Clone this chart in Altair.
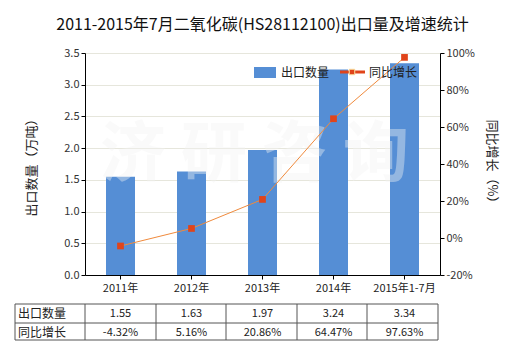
import altair as alt
import pandas as pd

# ---- data ----
categories = ["2011年", "2012年", "2013年", "2014年", "2015年1-7月"]
export_qty = [1.55, 1.63, 1.97, 3.24, 3.34]
growth_pct = [-4.32, 5.16, 20.86, 64.47, 97.63]
row_labels = ["出口数量", "同比增长"]
legend_labels = ["出口数量", "同比增长"]
left_ticks = [0, 0.5, 1.0, 1.5, 2.0, 2.5, 3.0, 3.5]
right_ticks = [-20, 0, 20, 40, 60, 80, 100]
title_text = "2011-2015年7月二氧化碳(HS28112100)出口量及增速统计"
left_title = "出口数量（万吨）"
right_title = "同比增长（%）"
watermark_text = "济 研 咨 询"

df = pd.DataFrame({
    "cat": categories,
    "qty": export_qty,
    "growth": growth_pct,
    "qty_lbl": [f"{v:.2f}" for v in export_qty],
    "g_lbl": [f"{g:.2f}%" for g in growth_pct],
})

FONT = "Noto Sans CJK SC"
BAR = "#558ED5"
LINE = "#F08A3C"
MARK = "#E0441A"
W, H = 355, 222

x_enc = alt.X(
    "cat:N", sort=categories,
    scale=alt.Scale(paddingInner=0, paddingOuter=0),
    axis=alt.Axis(title=None, labelAngle=0, domainColor="black", tickColor="black",
                  tickSize=4, labelPadding=3, labelFont=FONT, labelFontSize=11,
                  labelColor="#222", grid=False),
)

base = alt.Chart(df)

bars = base.mark_bar(size=29, color=BAR).encode(
    x=x_enc,
    y=alt.Y("qty:Q", scale=alt.Scale(domain=[0, 3.5], nice=False),
            axis=alt.Axis(values=left_ticks, format=".1f", title=left_title,
                          grid=True, gridColor="#E6E6DC", domainColor="black",
                          tickColor="black", tickSize=4, labelFont=FONT,
                          labelFontSize=11, labelColor="#333", titleFont=FONT,
                          titleFontSize=13, titleFontWeight="normal",
                          titleColor="#222", titlePadding=25)),
)

y_right = alt.Y("growth:Q", scale=alt.Scale(domain=[-20, 100], nice=False),
                axis=alt.Axis(orient="right", values=right_ticks,
                              labelExpr="datum.value + '%'", title=right_title,
                              grid=False, domainColor="black", tickColor="black",
                              tickSize=4, labelFont=FONT, labelFontSize=11,
                              labelColor="#333", titleFont=FONT, titleFontSize=13,
                              titleFontWeight="normal", titleColor="#222",
                              titlePadding=10))

line = base.mark_line(color=LINE, strokeWidth=1).encode(x=x_enc, y=y_right)
pts = base.mark_point(shape="square", filled=True, size=45, color=MARK, opacity=1).encode(
    x=x_enc, y=y_right)
line_layer = alt.layer(line, pts)


def one(val):
    return alt.Chart(pd.DataFrame({"t": [val]}))


# watermark
wm = one(watermark_text).mark_text(
    font=FONT, fontSize=66, fontWeight="bold", color="#F4F4F4", opacity=0.4
).encode(text="t:N", x=alt.value(W / 2 - 8), y=alt.value(103))

# legend (manual)
leg_rect = one(0).mark_rect(color=BAR).encode(
    x=alt.value(169), x2=alt.value(191), y=alt.value(14), y2=alt.value(25))
leg_t1 = one(legend_labels[0]).mark_text(
    font=FONT, fontSize=12, align="left", baseline="middle", color="#222"
).encode(text="t:N", x=alt.value(196), y=alt.value(20))
leg_line = one(0).mark_rule(color=MARK, strokeWidth=3).encode(
    x=alt.value(255), x2=alt.value(280), y=alt.value(19))
leg_pt = one(0).mark_point(shape="square", filled=True, size=30, color=MARK,
                           stroke="#F8E0A0", strokeWidth=1, opacity=1).encode(
    x=alt.value(267), y=alt.value(19))
leg_t2 = one(legend_labels[1]).mark_text(
    font=FONT, fontSize=12, align="left", baseline="middle", color="#222"
).encode(text="t:N", x=alt.value(284), y=alt.value(20))

# data table
R1, R2 = 261, 280
t_qty = base.mark_text(font=FONT, fontSize=11, color="#222", baseline="middle").encode(
    x=x_enc, y=alt.value(R1), text="qty_lbl:N")
t_g = base.mark_text(font=FONT, fontSize=11, color="#222", baseline="middle").encode(
    x=x_enc, y=alt.value(R2), text="g_lbl:N")
rl1 = one(row_labels[0]).mark_text(font=FONT, fontSize=12, align="left",
                                   baseline="middle", color="#222").encode(
    text="t:N", x=alt.value(-67), y=alt.value(R1))
rl2 = one(row_labels[1]).mark_text(font=FONT, fontSize=12, align="left",
                                   baseline="middle", color="#222").encode(
    text="t:N", x=alt.value(-67), y=alt.value(R2))

TL, TR, TT, TM, TB = -70, 353, 251, 270, 287
grid_layers = []
for yy in (TT, TM, TB):
    grid_layers.append(one(0).mark_rule(color="#555", strokeWidth=1).encode(
        x=alt.value(TL), x2=alt.value(TR), y=alt.value(yy)))
step = (TR - 0) / len(categories)
for xx in [TL] + [round(i * step) for i in range(len(categories))] + [TR]:
    grid_layers.append(one(0).mark_rule(color="#555", strokeWidth=1).encode(
        x=alt.value(xx), y=alt.value(TT), y2=alt.value(TB)))

chart = alt.layer(
    bars, wm, line_layer, leg_rect, leg_t1, leg_line, leg_pt, leg_t2,
    t_qty, t_g, rl1, rl2, *grid_layers
).resolve_scale(y="independent").properties(
    width=W, height=H,
    padding={"left": 85, "top": 53, "right": 80, "bottom": 75},
    autosize=alt.AutoSizeParams(type="none"),
    title=alt.TitleParams(title_text, font=FONT, fontSize=16, fontWeight="normal",
                          color="#111", anchor="middle", offset=14),
).configure_view(strokeWidth=0)

chart.save("out.html", embed_options={"renderer": "svg", "actions": False})
